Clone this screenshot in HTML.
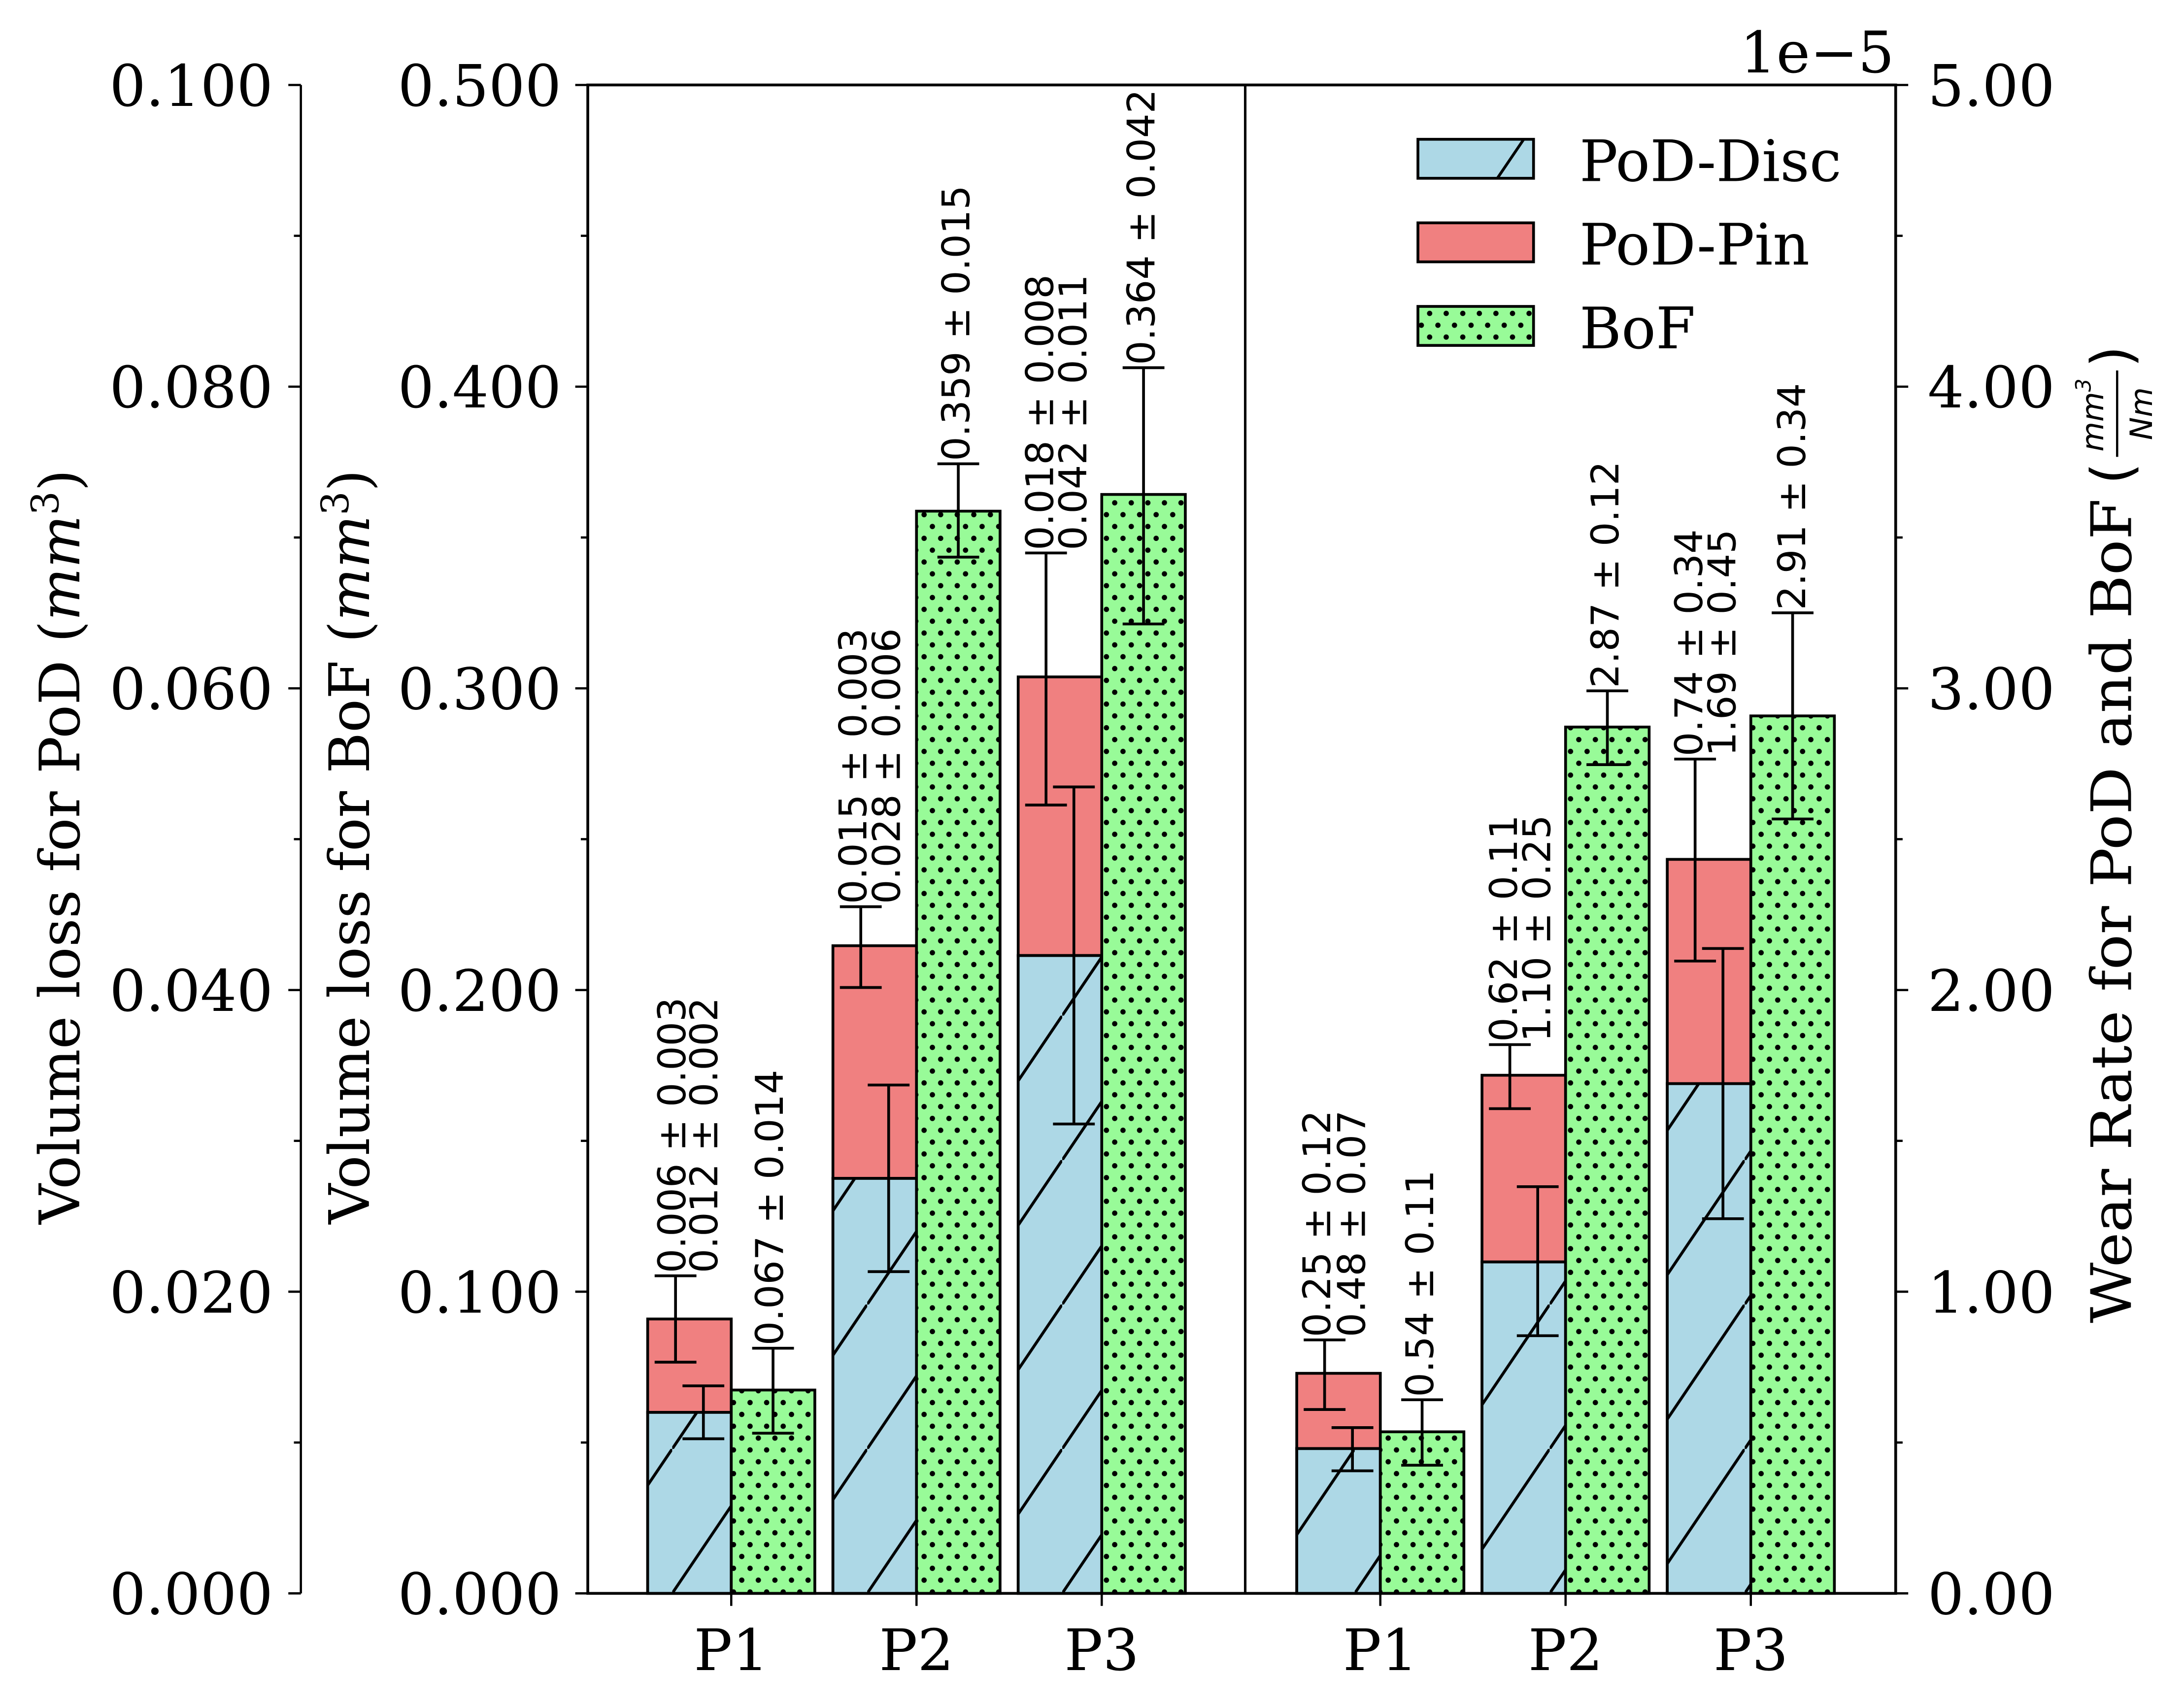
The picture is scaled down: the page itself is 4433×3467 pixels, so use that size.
<!DOCTYPE html>
<html><head><meta charset="utf-8"><style>html,body{margin:0;padding:0;background:#fff}svg{display:block}</style></head>
<body>
<svg width="4433" height="3467" viewBox="0 0 1568 1226.3" preserveAspectRatio="none" xmlns="http://www.w3.org/2000/svg">
<defs>
<pattern id="hatch" patternUnits="userSpaceOnUse" x="482.6" y="1040.3" width="70" height="103.7">
<line x1="-70" y1="207.4" x2="70" y2="0" stroke="#000" stroke-width="2"/>
<line x1="0" y1="103.7" x2="70" y2="0" stroke="#000" stroke-width="2"/>
<line x1="0" y1="103.7" x2="140" y2="-103.7" stroke="#000" stroke-width="2"/>
</pattern>
<pattern id="dots" patternUnits="userSpaceOnUse" x="0" y="0" width="11.9" height="17">
<rect width="11.9" height="17" fill="#98fb98"/>
<circle cx="3" cy="4" r="1.9" fill="#000"/>
<circle cx="8.95" cy="12.5" r="1.9" fill="#000"/>
</pattern>
</defs>
<rect width="1568" height="1226.3" fill="#fff"/>
<g font-family="DejaVu Serif, Liberation Serif, serif" font-size="41" fill="#000">
<line x1="216" y1="61" x2="216" y2="1144" stroke="#000" stroke-width="1.6"/>
<g stroke="#000" stroke-width="1.6">
<line x1="207" y1="1144" x2="216" y2="1144"/><line x1="207" y1="927.4" x2="216" y2="927.4"/><line x1="207" y1="710.8" x2="216" y2="710.8"/><line x1="207" y1="494.2" x2="216" y2="494.2"/><line x1="207" y1="277.6" x2="216" y2="277.6"/><line x1="207" y1="61" x2="216" y2="61"/>
<line x1="211" y1="1035.7" x2="216" y2="1035.7"/><line x1="211" y1="819.1" x2="216" y2="819.1"/><line x1="211" y1="602.5" x2="216" y2="602.5"/><line x1="211" y1="385.9" x2="216" y2="385.9"/><line x1="211" y1="169.3" x2="216" y2="169.3"/>
</g>
<g text-anchor="end">
<text x="196" y="1159">0.000</text><text x="196" y="942.4">0.020</text><text x="196" y="725.8">0.040</text><text x="196" y="509.2">0.060</text><text x="196" y="292.6">0.080</text><text x="196" y="76">0.100</text>
</g>
<g stroke="#000" stroke-width="1.6">
<line x1="413" y1="1144" x2="422" y2="1144"/><line x1="413" y1="927.4" x2="422" y2="927.4"/><line x1="413" y1="710.8" x2="422" y2="710.8"/><line x1="413" y1="494.2" x2="422" y2="494.2"/><line x1="413" y1="277.6" x2="422" y2="277.6"/><line x1="413" y1="61" x2="422" y2="61"/>
<line x1="417" y1="1035.7" x2="422" y2="1035.7"/><line x1="417" y1="819.1" x2="422" y2="819.1"/><line x1="417" y1="602.5" x2="422" y2="602.5"/><line x1="417" y1="385.9" x2="422" y2="385.9"/><line x1="417" y1="169.3" x2="422" y2="169.3"/>
<line x1="1361" y1="1144" x2="1370" y2="1144"/><line x1="1361" y1="927.4" x2="1370" y2="927.4"/><line x1="1361" y1="710.8" x2="1370" y2="710.8"/><line x1="1361" y1="494.2" x2="1370" y2="494.2"/><line x1="1361" y1="277.6" x2="1370" y2="277.6"/><line x1="1361" y1="61" x2="1370" y2="61"/>
<line x1="1361" y1="1035.7" x2="1366" y2="1035.7"/><line x1="1361" y1="819.1" x2="1366" y2="819.1"/><line x1="1361" y1="602.5" x2="1366" y2="602.5"/><line x1="1361" y1="385.9" x2="1366" y2="385.9"/><line x1="1361" y1="169.3" x2="1366" y2="169.3"/>
<line x1="525" y1="1144" x2="525" y2="1153"/><line x1="658" y1="1144" x2="658" y2="1153"/><line x1="791" y1="1144" x2="791" y2="1153"/>
<line x1="991" y1="1144" x2="991" y2="1153"/><line x1="1124" y1="1144" x2="1124" y2="1153"/><line x1="1257" y1="1144" x2="1257" y2="1153"/>
</g>
<g text-anchor="end">
<text x="403" y="1159">0.000</text><text x="403" y="942.4">0.100</text><text x="403" y="725.8">0.200</text><text x="403" y="509.2">0.300</text><text x="403" y="292.6">0.400</text><text x="403" y="76">0.500</text>
</g>
<g text-anchor="start">
<text x="1384" y="1159">0.00</text><text x="1384" y="942.4">1.00</text><text x="1384" y="725.8">2.00</text><text x="1384" y="509.2">3.00</text><text x="1384" y="292.6">4.00</text><text x="1384" y="76">5.00</text>
</g>
<text x="1360" y="52" text-anchor="end">1e−5</text>
<g text-anchor="middle">
<text x="525" y="1199">P1</text><text x="658" y="1199">P2</text><text x="791" y="1199">P3</text>
<text x="991" y="1199">P1</text><text x="1124" y="1199">P2</text><text x="1257" y="1199">P3</text>
</g>
<text transform="translate(57,608) rotate(-90)" text-anchor="middle" font-size="40">Volume loss for PoD (<tspan font-style="italic">mm</tspan><tspan font-size="27" dy="-15">3</tspan><tspan dy="15">)</tspan></text>
<text transform="translate(265,608) rotate(-90)" text-anchor="middle" font-size="40">Volume loss for BoF (<tspan font-style="italic">mm</tspan><tspan font-size="27" dy="-15">3</tspan><tspan dy="15">)</tspan></text>
<text transform="translate(1530,950) rotate(-90)" text-anchor="start" font-size="40" textLength="592" lengthAdjust="spacingAndGlyphs">Wear Rate for PoD and BoF</text>
<text transform="translate(1530,340) rotate(-90)" text-anchor="middle" font-size="40" font-family="DejaVu Sans, sans-serif">(</text>
<text transform="translate(1530,256) rotate(-90)" text-anchor="middle" font-size="40" font-family="DejaVu Sans, sans-serif">)</text>
<text transform="translate(1510,298) rotate(-90)" text-anchor="middle" font-size="22" font-family="DejaVu Sans, sans-serif" font-style="italic">mm<tspan font-size="15" dy="-9">3</tspan></text>
<text transform="translate(1545,297) rotate(-90)" text-anchor="middle" font-size="22" font-family="DejaVu Sans, sans-serif" font-style="italic">Nm</text>
<line x1="1520" y1="328" x2="1520" y2="266" stroke="#000" stroke-width="1.6"/>
<rect x="1018" y="100" width="83" height="28" fill="#add8e6" stroke="#000" stroke-width="2"/>
<line x1="1075" y1="128" x2="1094" y2="100" stroke="#000" stroke-width="2"/>
<rect x="1018" y="160" width="83" height="28" fill="#f08080" stroke="#000" stroke-width="2"/>
<rect x="1018" y="220" width="83" height="28" fill="url(#dots)" stroke="#000" stroke-width="2"/>
<text x="1134" y="130">PoD-Disc</text>
<text x="1134" y="190">PoD-Pin</text>
<text x="1134" y="250">BoF</text>
</g>
<g stroke="#000" stroke-width="2">
<rect x="465" y="1014" width="60" height="130" fill="#add8e6"/><rect x="465" y="1014" width="60" height="130" fill="url(#hatch)"/>
<rect x="465" y="947" width="60" height="67" fill="#f08080"/>
<rect x="525" y="998" width="60" height="146" fill="url(#dots)"/>
<rect x="598" y="846" width="60" height="298" fill="#add8e6"/><rect x="598" y="846" width="60" height="298" fill="url(#hatch)"/>
<rect x="598" y="679" width="60" height="167" fill="#f08080"/>
<rect x="658" y="367" width="60" height="777" fill="url(#dots)"/>
<rect x="731" y="686" width="60" height="458" fill="#add8e6"/><rect x="731" y="686" width="60" height="458" fill="url(#hatch)"/>
<rect x="731" y="486" width="60" height="200" fill="#f08080"/>
<rect x="791" y="355" width="60" height="789" fill="url(#dots)"/>
<rect x="931" y="1040" width="60" height="104" fill="#add8e6"/><rect x="931" y="1040" width="60" height="104" fill="url(#hatch)"/>
<rect x="931" y="986" width="60" height="54" fill="#f08080"/>
<rect x="991" y="1028" width="60" height="116" fill="url(#dots)"/>
<rect x="1064" y="906" width="60" height="238" fill="#add8e6"/><rect x="1064" y="906" width="60" height="238" fill="url(#hatch)"/>
<rect x="1064" y="772" width="60" height="134" fill="#f08080"/>
<rect x="1124" y="522" width="60" height="622" fill="url(#dots)"/>
<rect x="1197" y="778" width="60" height="366" fill="#add8e6"/><rect x="1197" y="778" width="60" height="366" fill="url(#hatch)"/>
<rect x="1197" y="617" width="60" height="161" fill="#f08080"/>
<rect x="1257" y="514" width="60" height="630" fill="url(#dots)"/>
</g>
<g stroke="#000" stroke-width="2" fill="none">
<path d="M485 916V978M470 916H500M470 978H500"/>
<path d="M505 995V1033M490 995H520M490 1033H520"/>
<path d="M555 968V1029M540 968H570M540 1029H570"/>
<path d="M618 651V709M603 651H633M603 709H633"/>
<path d="M638 779V913M623 779H653M623 913H653"/>
<path d="M688 333V400M673 333H703M673 400H703"/>
<path d="M751 397V578M736 397H766M736 578H766"/>
<path d="M771 565V807M756 565H786M756 807H786"/>
<path d="M821 264V448M806 264H836M806 448H836"/>
<path d="M951 962V1012M936 962H966M936 1012H966"/>
<path d="M971 1025V1056M956 1025H986M956 1056H986"/>
<path d="M1021 1005V1052M1006 1005H1036M1006 1052H1036"/>
<path d="M1084 750V796M1069 750H1099M1069 796H1099"/>
<path d="M1104 852V959M1089 852H1119M1089 959H1119"/>
<path d="M1154 496V549M1139 496H1169M1139 549H1169"/>
<path d="M1217 545V690M1202 545H1232M1202 690H1232"/>
<path d="M1237 681V875M1222 681H1252M1222 875H1252"/>
<path d="M1287 440V588M1272 440H1302M1272 588H1302"/>
</g>
<rect x="422" y="61" width="939" height="1083" fill="none" stroke="#000" stroke-width="2"/>
<line x1="894" y1="61" x2="894" y2="1144" stroke="#000" stroke-width="1.8"/>
<g font-family="DejaVu Sans, Liberation Sans, sans-serif" font-size="27.5" fill="#000">
<text transform="translate(492,914) rotate(-90)">0.006 ± 0.003</text>
<text transform="translate(515,914) rotate(-90)">0.012 ± 0.002</text>
<text transform="translate(562,966) rotate(-90)">0.067 ± 0.014</text>
<text transform="translate(622,649) rotate(-90)">0.015 ± 0.003</text>
<text transform="translate(646,649) rotate(-90)">0.028 ± 0.006</text>
<text transform="translate(696,331) rotate(-90)">0.359 ± 0.015</text>
<text transform="translate(756,395) rotate(-90)">0.018 ± 0.008</text>
<text transform="translate(780,395) rotate(-90)">0.042 ± 0.011</text>
<text transform="translate(829,262) rotate(-90)">0.364 ± 0.042</text>
<text transform="translate(955,960) rotate(-90)">0.25 ± 0.12</text>
<text transform="translate(980,960) rotate(-90)">0.48 ± 0.07</text>
<text transform="translate(1029,1003) rotate(-90)">0.54 ± 0.11</text>
<text transform="translate(1089,748) rotate(-90)">0.62 ± 0.11</text>
<text transform="translate(1113,748) rotate(-90)">1.10 ± 0.25</text>
<text transform="translate(1162,494) rotate(-90)">2.87 ± 0.12</text>
<text transform="translate(1222,543) rotate(-90)">0.74 ± 0.34</text>
<text transform="translate(1246,543) rotate(-90)">1.69 ± 0.45</text>
<text transform="translate(1296,438) rotate(-90)">2.91 ± 0.34</text>
</g>
</svg>
</body></html>
